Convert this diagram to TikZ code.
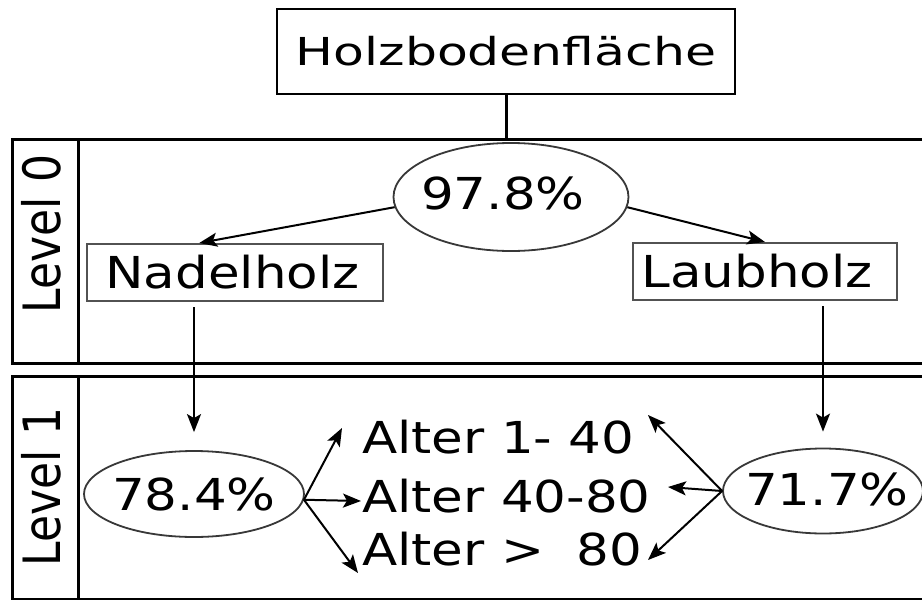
\documentclass[tikz,border=0pt]{standalone}
\usepackage{fontspec}
\setmainfont{DejaVu Sans}[FakeStretch=1.17]
\newfontfamily\titlefont{DejaVu Sans}[FakeStretch=1.31]
\newfontfamily\lanefont{DejaVu Sans}
\usetikzlibrary{arrows.meta,calc,shapes.geometric}

\begin{document}
\begin{tikzpicture}[x=1pt,y=-1pt,
  bigtext/.style={font=\fontsize{44}{50}\selectfont},
  lane/.style={draw=black, line width=3pt, rectangle, inner sep=0pt, anchor=north west},
  lanelabel/.style={rotate=90, inner sep=0pt, font=\lanefont\fontsize{44}{50}\selectfont},
  box/.style={bigtext, draw=black!68, line width=2pt, rectangle, inner sep=0pt},
  oval/.style={bigtext, draw=black!78, line width=1.8pt, ellipse, inner sep=0pt},
  agelabel/.style={bigtext, inner sep=0pt, anchor=base west},
  arr/.style={-{Stealth[length=18pt,width=14pt,inset=4pt]}, line width=2pt, draw=black}
]
\clip (0,0) rectangle (922,600);
\fill[white] (0,0) rectangle (922,600);

% swimlanes
\node[lane, minimum width=924pt, minimum height=224pt] (lane0) at (11,138) {};
\node[lane, minimum width=924pt, minimum height=223pt] (lane1) at (11,375) {};
\draw[line width=3pt] (78,138) -- (78,362);
\draw[line width=3pt] (78,375) -- (78,598);
\node[lanelabel] (lv0) at (41,234) {\scalebox{1}[1.17]{Level 0}};
\node[lanelabel] (lv1) at (41,487) {\scalebox{1}[1.17]{Level 1}};

% root
\node[draw=black, line width=2.5pt, rectangle, inner sep=0pt,
      minimum width=458pt, minimum height=85pt,
      font=\titlefont\fontsize{38.5}{44}\selectfont] (title) at (506,51.5) {Holzbodenfläche};
\draw[line width=3pt] (title.south) -- (title.south |- lane0.north);

% level 0
\node[oval, minimum width=235pt, minimum height=108pt] (h1) at (511,197) {\makebox[0pt]{\raisebox{8pt}{97.8\%}\kern16pt}};
\node[box, minimum width=296pt, minimum height=57pt] (nadel) at (235,272.5) {Nadelholz\kern5pt};
\node[box, minimum width=264pt, minimum height=57pt] (laub) at (765,271.5) {Laubholz\kern16pt};

\draw[arr] (h1.185) -- ($(nadel.north west)!0.38!(nadel.north east)$);
\draw[arr] (h1.-5) -- (laub.north);

% level 1
\node[oval, minimum width=220pt, minimum height=86pt] (p1) at (194,494) {\makebox[0pt]{78.4\%}};
\node[oval, minimum width=200pt, minimum height=85pt] (p2) at (823,491) {\makebox[0pt]{\kern8pt\raisebox{3pt}{71.7\%}}};

\node[agelabel] (a1) at (362,453) {Alter 1- 40};
\node[agelabel] (a2) at (362,512) {Alter 40-80};
\node[agelabel] (a3) at (362,565) {Alter >\ \ 80};

\draw[arr, shorten <=5pt, shorten >=18pt] (p1.north |- nadel.south) -- (p1.north);
\draw[arr, shorten <=5pt, shorten >=16pt] (p2.north |- laub.south) -- (p2.north);

% arrow ends beside the age classes
\coordinate (l1) at (342,428);
\coordinate (l2) at (361,501);
\coordinate (l3) at (358,573);
\coordinate (r1) at (648,415);
\coordinate (r2) at (668,487);
\coordinate (r3) at (648,560);

\draw[arr] (p1.-3) -- (l1);
\draw[arr] (p1.-3) -- (l2);
\draw[arr] (p1.-3) -- (l3);
\draw[arr] (p2.west) -- (r1);
\draw[arr] (p2.west) -- (r2);
\draw[arr] (p2.west) -- (r3);
\end{tikzpicture}
\end{document}
